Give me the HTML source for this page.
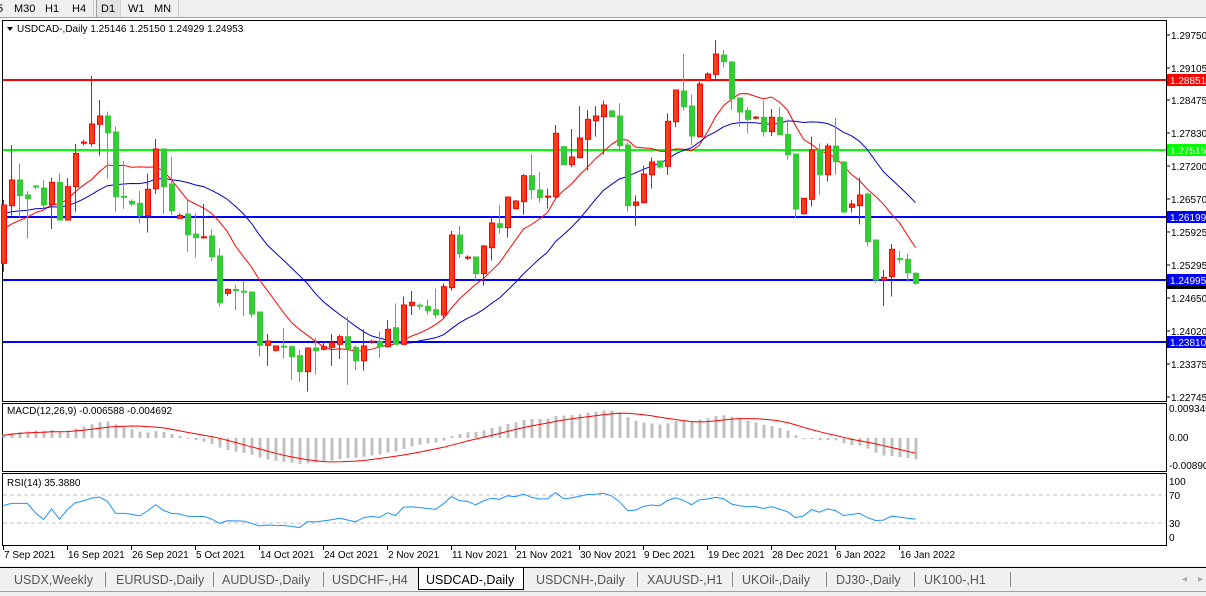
<!DOCTYPE html>
<html><head><meta charset="utf-8">
<style>
html,body{margin:0;padding:0;background:#f0f0f0;}
body{width:1206px;height:596px;position:relative;overflow:hidden;font-family:"Liberation Sans",sans-serif;font-size:11px;color:#000;}
</style></head><body>
<svg id="s" width="1206" height="596" style="position:absolute;left:0;top:0" xmlns="http://www.w3.org/2000/svg" font-family="Liberation Sans, sans-serif" font-size="10">
</svg>
<script>
const z6=[
['r',435,610,420,635],['r',360,437,255,467],['g',360,407,310,472],['g',405,416,393,536],['g',376,383,376,388],
['g',384,435,360,448],['r',367,434,353,507],['g',367,480,340,482],['r',380,480,354,482],['r',280,380,252,455],
['r',247,249,240,256],['r',192,251,48,260],['r',168,193,120,287],['g',168,218,155,355],['g',216,410,200,455],
['g',408,413,303,447],['g',424,432,418,438],['g',430,467,392,490],['r',388,467,340,518],['r',267,386,237,402],
['g',267,380,265,462],['g',372,452,291,465],['r',466,475,460,475],['g',462,524,420,576],['g',522,533,460,593],
['r',530,534,432,536],['g',528,590,508,603],['g',588,728,565,740],['r',688,700,685,708],['g',688,692,675,750],
['g',693,697,662,768],['g',696,762,694,773],['g',756,856,756,890],['r',843,856,822,918],['r',858,871,856,875],
['g',858,862,804,896],['g',860,890,856,960],['g',887,935,870,966],['r',864,935,864,995],['g',864,872,834,944],
['r',860,868,848,872],['r',848,862,822,918],['r',830,853,824,897],['g',830,866,770,975],['g',862,902,856,930],
['r',858,902,808,932],['r',844,846,839,851],['g',845,860,814,893],['r',808,860,780,862],['g',803,853,730,855],
['r',735,853,710,855],['r',727,737,693,765],['g',735,739,730,750],['g',739,752,718,764],['g',749,764,686,776]];
const z7=[
['r',770,855,760,865],['r',615,773,603,782],['g',615,671,588,684],['r',682,684,676,690],['g',681,731,681,752],
['r',648,731,645,767],['r',579,653,563,692],['g',581,593,524,611],['r',501,593,501,623],['r',513,536,510,536],
['r',437,515,432,554],['g',437,479,372,507],['g',480,503,426,518],['r',498,502,476,536],['r',310,500,285,504],
['g',350,404,348,404],['r',381,404,297,411],['r',324,383,228,385],['r',268,328,240,422],['r',258,272,228,320],
['r',225,260,212,374],['g',243,260,240,260],['g',258,347,219,357],['g',345,527,337,545],['r',516,526,496,587],
['r',432,518,407,520],['r',396,434,382,476],['g',393,411,393,416],['r',274,409,250,435],['r',180,275,180,291],
['g',183,230,72,242],['g',228,318,194,345],['r',162,320,155,322],['r',132,152,127,152],['r',72,133,30,150],
['g',75,95,60,113],['g',96,206,93,240],['g',204,246,204,290],['g',242,268,232,310],['r',262,264,258,268],
['g',262,305,212,320],['r',262,305,237,318],['g',262,314,232,314],['g',313,374,268,389],['g',372,537,370,565],
['r',505,551,505,553],['r',360,508,320,530],['g',360,434,340,494],['r',348,434,340,455],['g',348,395,264,434],
['g',396,546,393,549],['r',522,532,510,548],['r',495,527,443,583],['g',492,635,488,650],['g',630,750,628,760],
['r',742,750,720,828],['r',658,740,642,800],['g',685,690,663,700],['g',688,728,672,755],['g',730,760,726,765]];
const bars=[];
z6.forEach(b=>bars.push([b[0],60+b[1]/3,60+b[2]/3,60+b[3]/3,60+b[4]/3]));
z7.forEach(b=>bars.push([b[0],30+b[1]/3,30+b[2]/3,30+b[3]/3,30+b[4]/3]));
const X=i=>3.5+8*i;
let o='';
const L=(x1,y1,x2,y2,c,w,d)=>`<line x1="${x1}" y1="${y1}" x2="${x2}" y2="${y2}" stroke="${c}" stroke-width="${w||1}"${d?` stroke-dasharray="${d}"`:''}/>`;
const T=(x,y,s,c,a)=>`<text x="${x}" y="${y}" fill="${c||'#000'}"${a?` text-anchor="${a}"`:''}>${s}</text>`;
o+=`<rect x="0" y="0" width="1206" height="17" fill="#f0f0f0"/>`;
o+=L(0,17.5,1206,17.5,'#a0a0a0');
o+=`<rect x="0" y="18" width="1206" height="548" fill="#fff"/>`;
o+=`<rect x="96" y="0" width="24" height="17" fill="#e4e4e4"/>`;
o+=L(96.5,0,96.5,17,'#a0a0a0')+L(120.5,0,120.5,17,'#d0d0d0')+L(93.5,0,93.5,17,'#c8c8c8')+L(178.5,0,178.5,17,'#c8c8c8');
o+=`<rect x="2.5" y="20.5" width="1164" height="381" fill="none" stroke="#000"/>`;
o+=`<rect x="2.5" y="403.5" width="1164" height="68" fill="none" stroke="#000"/>`;
o+=`<rect x="2.5" y="473.5" width="1164" height="72" fill="none" stroke="#000"/>`;
[[80,'#ff0000'],[150,'#00ff00'],[217,'#0000ff'],[280,'#0000ff'],[342,'#0000ff']].forEach(h=>o+=L(3,h[0],1166,h[0],h[1],2));
const cl=bars.map(b=>b[0]=='r'?b[1]:b[2]);
function sma(n,seed){return cl.map((c,i)=>{let s=0;for(let k=i-n+1;k<=i;k++)s+=k<0?seed:cl[k];return s/n;});}
const ma1=sma(10,232),ma2=sma(20,214);
const pl=(a,c)=>`<polyline fill="none" stroke="${c}" stroke-width="1" points="${a.map((v,i)=>X(i)+','+v.toFixed(1)).join(' ')}"/>`;
o+=pl(ma1,'#ff0000')+pl(ma2,'#0000c8');
bars.forEach((b,i)=>{const x=X(i);const c=b[0]=='r'?'#ff0000':'#32cd32';
 o+=L(x,b[3],x,b[4],c);
 if(b[2]-b[1]<2.5){o+=L(x-2.5,(b[1]+b[2])/2,x+3.5,(b[1]+b[2])/2,c,2);}
 else o+=`<rect x="${x-2}" y="${b[1]}" width="5" height="${b[2]-b[1]}" fill="${b[0]=='r'?'#ff3c14':'#32cd32'}" stroke="${c}" stroke-width="1"/>`;});
function ema(a,n,seed){let k=2/(n+1),e=seed;return a.map(v=>e=v*k+e*(1-k));}
const e12=ema(cl,12,236),e26=ema(cl,26,238);
const m=e12.map((v,i)=>(v-e26[i])*0.62);
const sig=[];m.forEach((v,i)=>{let a=0,n=0;for(let k=Math.max(0,i-8);k<=i;k++){a+=m[k];n++;}sig.push(a/n);});
m.forEach((v,i)=>{const y=438+v;o+=`<rect x="${X(i)-1}" y="${Math.min(438,y)}" width="3" height="${Math.max(1,Math.abs(v))}" fill="#c0c0c0"/>`;});
o+=pl(sig.map(v=>438+v),'#ff0000');
const rsi=[];{let ag=0,al=0;cl.forEach((c,i)=>{if(i==0){rsi.push(55);return;}const d=cl[i-1]-c;const g=Math.max(d,0),l=Math.max(-d,0);ag=(ag*13+g)/14;al=(al*13+l)/14;if(i<4){rsi.push(58);ag=ag||3;al=al||2;return;}rsi.push(100-100/(1+ag/(al||1e-6)));});}
o+=L(3,495,1166,495,'#c0c0c0',1,'4,3')+L(3,523,1166,523,'#c0c0c0',1,'4,3');
o+=pl(rsi.map(v=>544-0.7*v),'#1e90ff');
o+=`<path d="M7,27 L13,27 L10,31z" fill="#000"/>`;
o+=T(17,32,'USDCAD-,Daily  1.25146 1.25150 1.24929 1.24953');
o+=T(7,414,'MACD(12,26,9) -0.006588 -0.004692');
o+=T(7,486,'RSI(14) 35.3880');
[['1.29750',35],['1.29105',68],['1.28475',100],['1.27830',133],['1.27200',166],['1.26570',199],['1.25925',232],['1.25295',265],['1.24650',298],['1.24020',331],['1.23375',364],['1.22745',397]].forEach(p=>{o+=L(1167,p[1],1170,p[1],'#000');o+=T(1171,p[1]+4,p[0]);});
[['1.28851',80,'#ff0000'],['1.27515',150,'#00ff00'],['1.26199',217,'#0000ff'],['1.24995',280,'#0000ff'],['1.23810',342,'#0000ff']].forEach(p=>{o+=`<rect x="1167" y="${p[1]-6}" width="39" height="12" fill="${p[2]}"/>`;o+=T(1170,p[1]+4,p[0],'#fff');});
o+=`<rect x="1167" y="286" width="39" height="3" fill="#000"/>`;
[['0.009345',412],['0.00',441],['-0.00890',469]].forEach(p=>o+=T(1169,p[1],p[0]));
[['100',485],['70',499],['30',527],['0',541]].forEach(p=>o+=T(1169,p[1],p[0]));
['7 Sep 2021','16 Sep 2021','26 Sep 2021','5 Oct 2021','14 Oct 2021','24 Oct 2021','2 Nov 2021','11 Nov 2021','21 Nov 2021','30 Nov 2021','9 Dec 2021','19 Dec 2021','28 Dec 2021','6 Jan 2022','16 Jan 2022'].forEach((d,i)=>{const x=3+64*i;o+=L(x+0.5,546,x+0.5,550,'#000');o+=T(x+1,558,d);});
o+=`<g font-size="11">`+T(-3,12,'5')+T(14,12,'M30')+T(45,12,'H1')+T(72,12,'H4')+T(101,12,'D1')+T(128,12,'W1')+T(154,12,'MN')+`</g>`;
o+=`<rect x="0" y="566" width="1206" height="30" fill="#f0f0f0"/>`;
o+=L(0,567.5,1206,567.5,'#000');
o+=L(0,591.5,1206,591.5,'#a0a0a0');
o+=`<rect x="418.5" y="567.5" width="105" height="22" fill="#fff" stroke="#000"/>`;
o+=`<g font-size="12.5">`;
[['USDX,Weekly',14],['EURUSD-,Daily',116],['AUDUSD-,Daily',222],['USDCHF-,H4',332],['USDCNH-,Daily',536],['XAUUSD-,H1',647],['UKOil-,Daily',742],['DJ30-,Daily',836],['UK100-,H1',924]].forEach(t=>o+=T(t[1],584,t[0],'#555'));
o+=T(426,584,'USDCAD-,Daily','#000');
o+=`</g>`;
[105,213,323,637,732,826,914,1010].forEach(x=>o+=L(x+0.5,572,x+0.5,587,'#888'));
o+=T(1182,582,'◂','#aaa')+T(1198,582,'▸','#aaa');
document.getElementById('s').innerHTML=o;
</script>
</body></html>
